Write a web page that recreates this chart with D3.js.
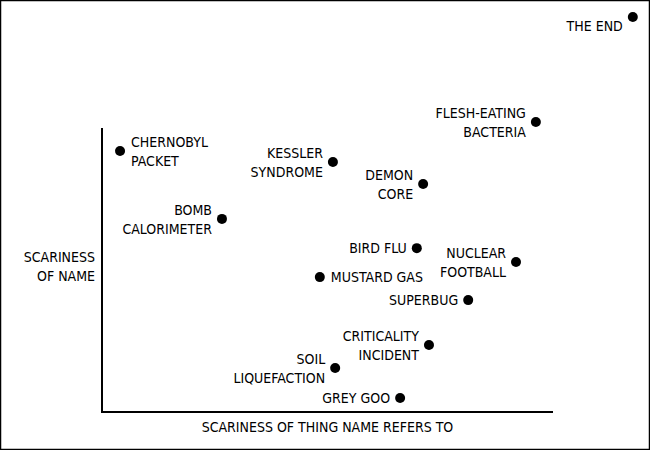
<!DOCTYPE html>
<html><head><meta charset="utf-8">
<script src="https://cdn.jsdelivr.net/npm/d3@7"></script>
<style>body{margin:0;background:#fff}</style>
</head><body>
<script>
const names = [["CHERNOBYL","PACKET"],["KESSLER","SYNDROME"],["DEMON","CORE"],["FLESH-EATING","BACTERIA"],["THE END"],["BOMB","CALORIMETER"],["BIRD FLU"],["NUCLEAR","FOOTBALL"],["MUSTARD GAS"],["SUPERBUG"],["CRITICALITY","INCIDENT"],["SOIL","LIQUEFACTION"],["GREY GOO"]];
const thingScariness = [4.0,51.2,71.2,96.2,117.7,26.6,69.8,91.8,48.3,81.2,72.5,51.7,66.1];
const nameScariness = [91.9,88.0,80.3,102.1,139.1,68.0,57.7,52.8,47.5,39.4,23.6,15.5,4.9];
const labelSide = ["right","left","left","left","left","left","left","left","right","left","left","left","left"];
const xLabel = "SCARINESS OF THING NAME REFERS TO";
const yLabel = ["SCARINESS","OF NAME"];

const W=650,H=450;
const svg=d3.select("body").append("svg").attr("width",W).attr("height",H);
const font="'DejaVu Sans Condensed','DejaVu Sans',sans-serif";
svg.append("rect").attr("x",0.5).attr("y",0.5).attr("width",W-1).attr("height",H-1).attr("fill","none").attr("stroke","#000").attr("stroke-width",1.5);
const x=d3.scaleLinear().domain([0,100]).range([102,553]);
const y=d3.scaleLinear().domain([0,100]).range([412,128]);
svg.append("path").attr("d",`M${x(0)},${y(100)}L${x(0)},${y(0)}L${x(100)},${y(0)}`).attr("fill","none").attr("stroke","#000").attr("stroke-width",2);
const t=(sel)=>sel.attr("font-family",font).attr("font-size",14).attr("fill","#000");
t(svg.append("text").attr("x",(x(0)+x(100))/2).attr("y",432).attr("text-anchor","middle").text(xLabel));
yLabel.forEach((l,i)=>t(svg.append("text").attr("x",95).attr("y",262+i*19).attr("text-anchor","end").text(l)));
names.forEach((n,i)=>{
  const cx=x(thingScariness[i]),cy=y(nameScariness[i]);
  svg.append("circle").attr("cx",cx).attr("cy",cy).attr("r",5).attr("fill","#000");
  const right=labelSide[i]==="right";
  const big=i===4;
  const tx=right?cx+11:cx-10;
  const start=big?cy+14:(n.length===1?cy+5:cy-4);
  n.forEach((l,j)=>t(svg.append("text").attr("x",tx).attr("y",start+j*19).attr("text-anchor",right?"start":"end").attr("font-size",big?20:14).text(l)));
});
</script>
</body></html>
